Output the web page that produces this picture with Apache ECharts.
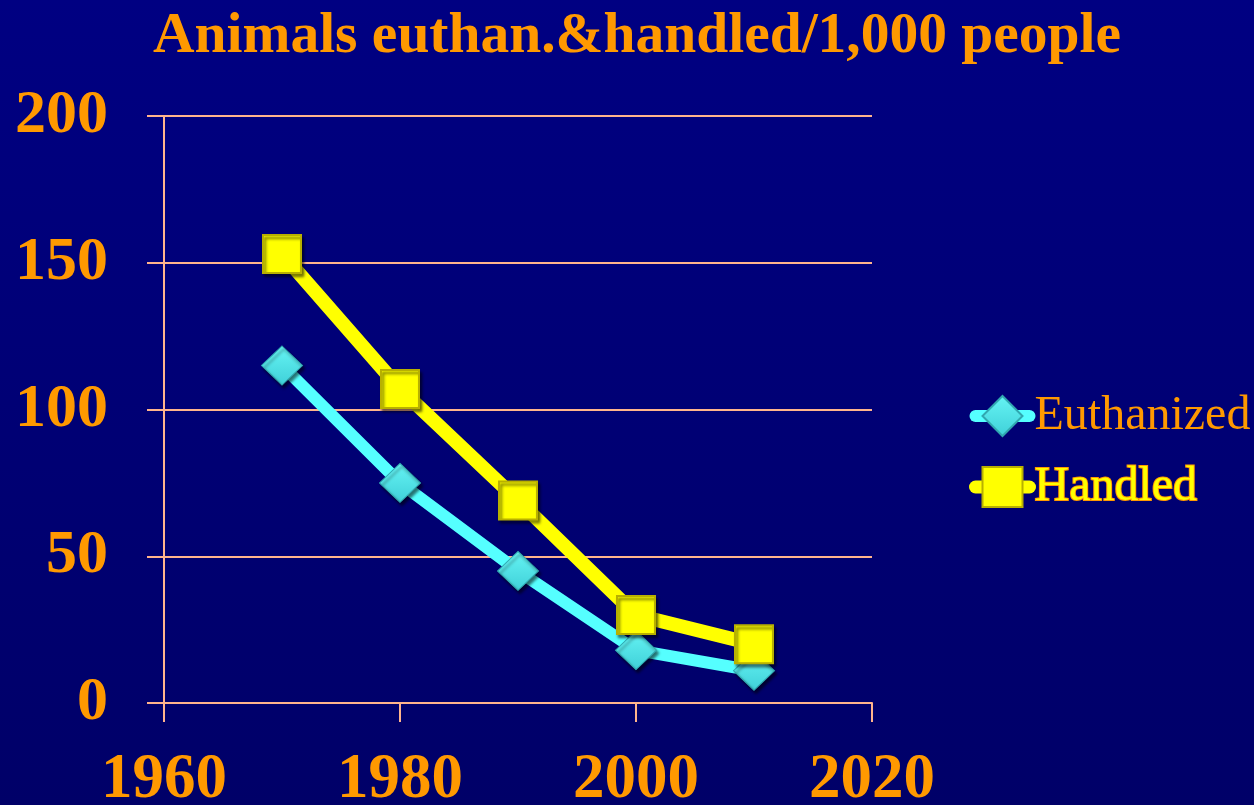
<!DOCTYPE html>
<html><head><meta charset="utf-8">
<script src="https://cdn.jsdelivr.net/npm/echarts@6/dist/echarts.min.js"></script>
<style>html,body{margin:0;padding:0;}#c{width:1254px;height:805px;}</style>
</head><body><div id="c"></div>
<script>
const years = [1970, 1980, 1990, 2000, 2010];
const euthanized = [115, 75, 45, 18, 11];
const handled = [153, 107, 69, 30, 20];
const titleText = 'Animals euthan.&handled/1,000 people';
const seriesNames = ['Euthanized', 'Handled'];

const chart = echarts.init(document.getElementById('c'));
const peach = '#FFB48C';
const orange = '#FF9900';
const font = '"Liberation Serif", "Times New Roman", serif';
const mkShadow = {shadowColor: 'rgba(0,0,0,0.55)', shadowBlur: 3, shadowOffsetX: 2, shadowOffsetY: 3};
chart.setOption({
  backgroundColor: {type: 'linear', x: 0, y: 0, x2: 0, y2: 1, colorStops: [{offset: 0, color: '#000082'}, {offset: 1, color: '#000068'}]},
  animation: false,
  title: {text: titleText, left: 148, top: 3,
    textStyle: {fontFamily: font, fontWeight: 'bold', fontSize: 57.5, color: orange}},
  legend: {
    orient: 'vertical', left: 964, top: 387, itemGap: 22, itemWidth: 54, itemHeight: 50,
    textStyle: {fontFamily: font, fontSize: 48, color: orange},
    data: [
      {name: seriesNames[0], textStyle: {color: orange},
        lineStyle: {width: 12, cap: 'round', color: '#55FFFF'}},
      {name: seriesNames[1], textStyle: {color: '#FFFF00', textBorderColor: orange, textBorderWidth: 2},
        lineStyle: {width: 13, cap: 'round', color: '#FFFF00'}}
    ]
  },
  grid: {left: 164, right: 382, top: 116, bottom: 102, outerBoundsMode: 'none', containLabel: false},
  xAxis: {type: 'value', min: 1960, max: 2020, interval: 20,
    axisLine: {show: true, lineStyle: {color: peach, width: 2}},
    axisTick: {show: true, length: 19, inside: false, lineStyle: {color: peach, width: 2}},
    splitLine: {show: false},
    axisLabel: {margin: 46, formatter: v => String(v), fontFamily: font, fontWeight: 'bold', fontSize: 63, color: orange}},
  yAxis: {type: 'value', min: 0, max: 200, interval: 50,
    axisLine: {show: true, lineStyle: {color: peach, width: 2}},
    axisTick: {show: true, length: 17, lineStyle: {color: peach, width: 2}},
    splitLine: {show: true, lineStyle: {color: peach, width: 2}},
    axisLabel: {margin: 56, fontFamily: font, fontWeight: 'bold', fontSize: 62, color: orange}},
  series: [
    {name: seriesNames[0], type: 'line', data: years.map((y, i) => [y, euthanized[i]]),
      lineStyle: {color: '#55FFFF', width: 12, cap: 'round', join: 'round'},
      symbol: 'diamond', symbolSize: [41, 39],
      itemStyle: Object.assign({color: {type: 'linear', x: 0, y: 0, x2: 0, y2: 1, colorStops: [{offset: 0, color: '#66F4F4'}, {offset: 1, color: '#3FD0D8'}]}, borderColor: '#30A8B0', borderWidth: 1}, mkShadow),
      z: 2},
    {name: seriesNames[1], type: 'line', data: years.map((y, i) => [y, handled[i]]),
      lineStyle: {color: '#FFFF00', width: 14, cap: 'round', join: 'round'},
      symbol: 'rect', symbolSize: 38,
      itemStyle: Object.assign({color: '#FFFF00', borderColor: '#B8B000', borderWidth: 2}, mkShadow),
      z: 3}
  ]
});
</script></body></html>
